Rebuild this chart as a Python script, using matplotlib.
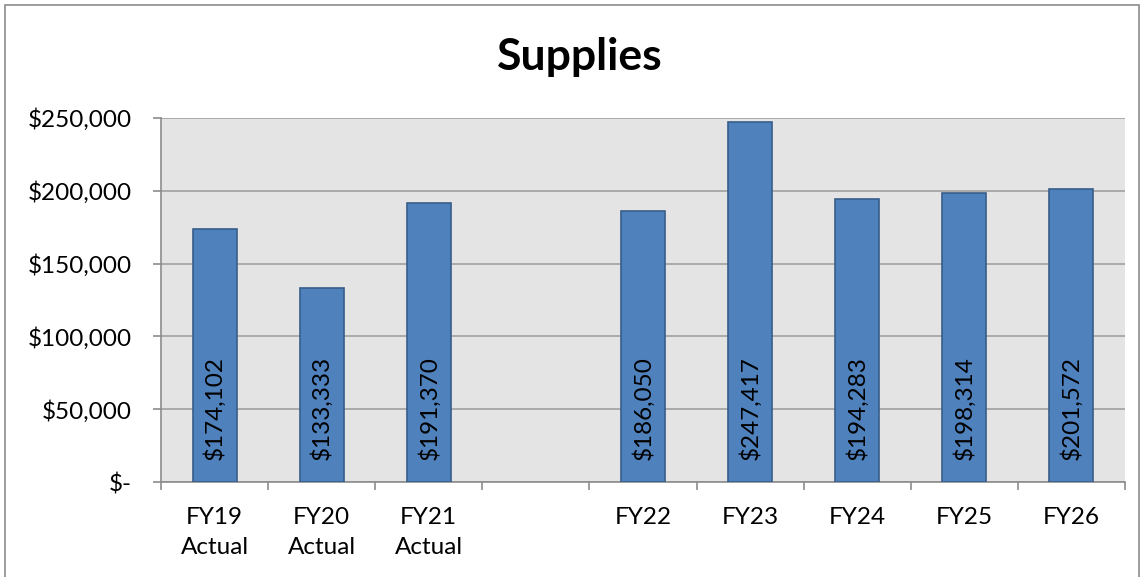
import matplotlib.pyplot as plt
from matplotlib.patches import Rectangle

# Supplies spending by fiscal year (blank slot separates actuals from projections)
categories = ["FY19\nActual", "FY20\nActual", "FY21\nActual", "",
              "FY22", "FY23", "FY24", "FY25", "FY26"]
values = [174102, 133333, 191370, None, 186050, 247417, 194283, 198314, 201572]
y_ticks = [0, 50000, 100000, 150000, 200000, 250000]

plt.rcParams['font.family'] = ['Lato', 'DejaVu Sans']

fig = plt.figure(figsize=(11.45, 5.77), dpi=100)
ax = fig.add_axes([161 / 1145, 1 - 482 / 577, (1125 - 161) / 1145, (482 - 118) / 577])

ax.set_facecolor('#e4e4e4')
ax.set_xlim(-0.5, len(categories) - 0.5)
ax.set_ylim(0, 250000)

xs = [i for i, v in enumerate(values) if v is not None]
vs = [v for v in values if v is not None]
ax.bar(xs, vs, width=0.41, color='#4f81bd', edgecolor='#385d8a', linewidth=1.2, zorder=3)

for x, v in zip(xs, vs):
    ax.annotate(f"${v:,}", (x, 0), xytext=(0, 22), textcoords='offset pixels',
                rotation=90, ha='center', va='bottom', fontsize=17.5, zorder=4)

# y axis with dollar labels, Excel style zero shown as "$-"
ax.set_yticks(y_ticks)
ax.set_yticklabels(["$-" if t == 0 else f"${t:,}" for t in y_ticks], fontsize=17.5)
ax.yaxis.grid(True, color='#a0a0a0', linewidth=1.2, zorder=0)
ax.set_axisbelow(True)

# category ticks sit between the bars
ax.set_xticks([i - 0.5 for i in range(len(categories) + 1)])
ax.set_xticklabels([])
ax.set_xticks(range(len(categories)), minor=True)
ax.set_xticklabels(categories, minor=True, fontsize=17.5, linespacing=1.5)
ax.tick_params(axis='x', which='minor', length=0, pad=18)
ax.tick_params(axis='x', which='major', length=6, color='#8c8c8c', width=1.2)
ax.tick_params(axis='y', length=6, color='#8c8c8c', width=1.2, pad=15)

for side in ['top', 'right']:
    ax.spines[side].set_visible(False)
for side in ['left', 'bottom']:
    ax.spines[side].set_color('#8c8c8c')
    ax.spines[side].set_linewidth(1.2)

fig.text(580 / 1145, 1 - 57 / 577, "Supplies", ha='center', va='center',
         fontsize=32, fontweight='bold')

# chart border
fig.patches.append(Rectangle((5 / 1145, -0.01), 1134 / 1145, 1 - 5 / 577 + 0.01,
                             transform=fig.transFigure, fill=False,
                             edgecolor='#8c8c8c', linewidth=1.2))

fig.savefig('out.png', dpi=100)
